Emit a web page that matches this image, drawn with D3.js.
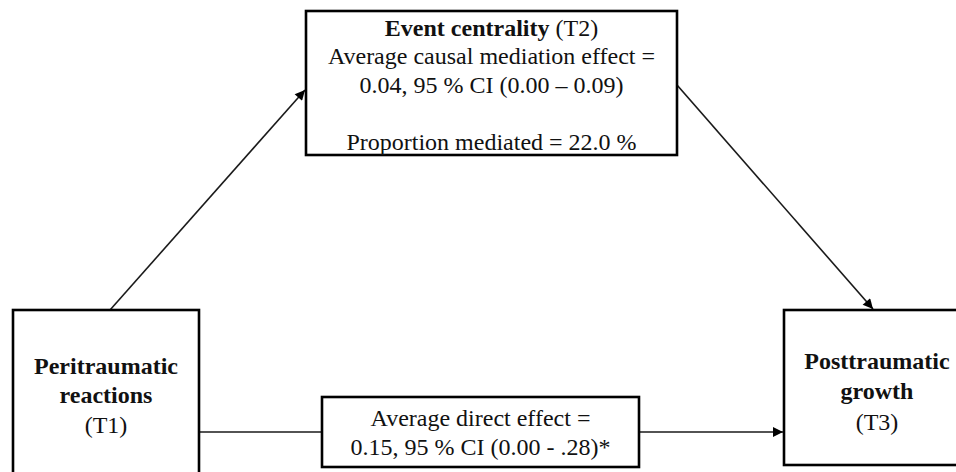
<!DOCTYPE html>
<html>
<head>
<meta charset="utf-8">
<script src="https://d3js.org/d3.v7.min.js"></script>
<style>
  html, body { margin: 0; padding: 0; background: #fff; }
  svg { display: block; }
  text { font-family: 'Liberation Serif', Tinos, 'Times New Roman', Times, serif; }
</style>
</head>
<body>
<div id="chart"></div>
<script>
'use strict';

// Node text, one entry per line. Bold parts are given as {b: ...}.
var nodeIds = ['mediator', 'predictor', 'direct', 'outcome'];
var mediatorLines = [
  [{b: 'Event centrality'}, ' (T2)'],
  ['Average causal mediation effect ='],
  ['0.04, 95 % CI (0.00 \u2013 0.09)'],
  [''],
  ['Proportion mediated = 22.0 %']
];
var predictorLines = [[{b: 'Peritraumatic'}], [{b: 'reactions'}], ['(T1)']];
var directLines = [['Average direct effect ='], ['0.15, 95 % CI (0.00 - .28)*']];
var outcomeLines = [[{b: 'Posttraumatic'}], [{b: 'growth'}], ['(T3)']];

var width = 956, height = 472;

// Layout of the boxes, in pixels
var layout = {
  mediator:  {x0: 306, y0: 11,  x1: 677, y1: 155, ty: 28,  lh: 28.5},
  predictor: {x0: 13,  y0: 310, x1: 199, y1: 480, ty: 366, lh: 29.5},
  direct:    {x0: 322, y0: 397, x1: 639, y1: 467, ty: 418, lh: 29},
  outcome:   {x0: 784, y0: 310, x1: 960, y1: 465, ty: 361, lh: 30.5, cx: 877}
};
var linesById = {
  mediator: mediatorLines, predictor: predictorLines,
  direct: directLines, outcome: outcomeLines
};

var svg = d3.select('#chart').append('svg')
  .attr('width', width)
  .attr('height', height);

svg.append('defs').append('marker')
  .attr('id', 'head')
  .attr('viewBox', '0 0 10 10')
  .attr('refX', 10).attr('refY', 5)
  .attr('markerWidth', 11).attr('markerHeight', 10)
  .attr('markerUnits', 'userSpaceOnUse')
  .attr('orient', 'auto')
  .append('path')
  .attr('d', 'M0,0 L10,5 L0,10 Z')
  .attr('fill', '#000');

// Paths between boxes
var arrows = [
  {x1: 110, y1: 310, x2: 305, y2: 90},
  {x1: 677, y1: 85,  x2: 873, y2: 309},
  {x1: 199, y1: 432, x2: 783, y2: 432}
];

svg.selectAll('line.path')
  .data(arrows).enter().append('line')
  .attr('class', 'path')
  .attr('x1', function(d) { return d.x1; })
  .attr('y1', function(d) { return d.y1; })
  .attr('x2', function(d) { return d.x2; })
  .attr('y2', function(d) { return d.y2; })
  .attr('stroke', '#1a1a1a')
  .attr('stroke-width', 1.6)
  .attr('marker-end', 'url(#head)');

var g = svg.selectAll('g.node')
  .data(nodeIds).enter().append('g')
  .attr('class', 'node');

g.append('rect')
  .attr('x', function(d) { return layout[d].x0; })
  .attr('y', function(d) { return layout[d].y0; })
  .attr('width', function(d) { return layout[d].x1 - layout[d].x0; })
  .attr('height', function(d) { return layout[d].y1 - layout[d].y0; })
  .attr('fill', '#fff')
  .attr('stroke', '#000')
  .attr('stroke-width', 2.6);

// Text, centred in each box
g.each(function(id) {
  var L = layout[id];
  var cx = L.cx || (L.x0 + L.x1) / 2;
  d3.select(this).selectAll('text')
    .data(linesById[id]).enter().append('text')
    .attr('x', cx)
    .attr('y', function(d, i) { return L.ty + i * L.lh; })
    .attr('dy', '0.33em')
    .attr('text-anchor', 'middle')
    .attr('font-size', 24)
    .attr('fill', '#111')
    .each(function(parts) {
      var t = d3.select(this);
      parts.forEach(function(p) {
        if (typeof p === 'string') {
          t.append('tspan').text(p);
        } else {
          t.append('tspan').attr('font-weight', 'bold').text(p.b);
        }
      });
    });
});
</script>
</body>
</html>
